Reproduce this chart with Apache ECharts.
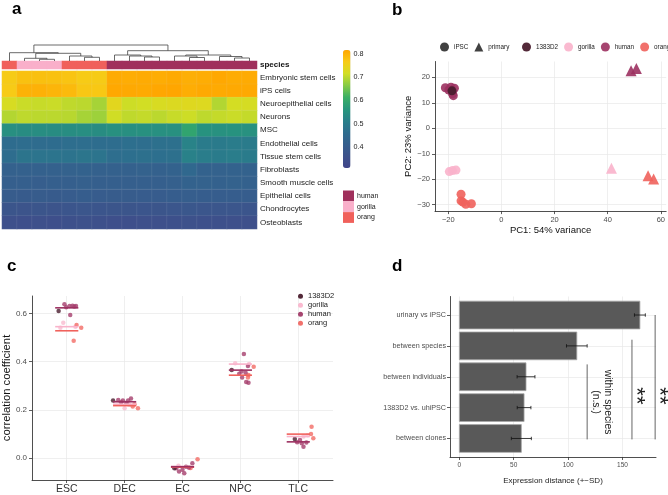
<!DOCTYPE html>
<html><head><meta charset="utf-8">
<script src="https://cdn.jsdelivr.net/npm/echarts@6/dist/echarts.min.js"></script>
<style>html,body{margin:0;padding:0;background:#fff}#c{width:668px;height:495px}</style>
</head><body><div id="c"></div>
<script>
const FONT = 'Liberation Sans, Arial, sans-serif';

// ---------- Panel a: heatmap ----------
const cellTypes = ['Embryonic stem cells','iPS cells','Neuroepithelial cells','Neurons','MSC','Endothelial cells','Tissue stem cells','Fibroblasts','Smooth muscle cells','Epithelial cells','Chondrocytes','Osteoblasts'];
const sampleIds = ['s1','s2','s3','s4','s5','s6','s7','s8','s9','s10','s11','s12','s13','s14','s15','s16','s17'];
const sampleSpecies = ['orang','gorilla','gorilla','gorilla','orang','orang','orang','human','human','human','human','human','human','human','human','human','human'];
const speciesOrder = ['human','gorilla','orang'];
const speciesColors = ['#A0305C','#F9AFCA','#F0605B'];
const heatESC   = [0.765,0.780,0.782,0.780,0.776,0.766,0.765,0.810,0.808,0.810,0.808,0.812,0.804,0.808,0.814,0.809,0.810];
const heatIPS   = [0.766,0.800,0.802,0.797,0.790,0.772,0.770,0.814,0.813,0.812,0.815,0.818,0.808,0.813,0.812,0.813,0.813];
const heatNeuroEpi = [0.722,0.710,0.708,0.710,0.703,0.700,0.686,0.737,0.712,0.716,0.724,0.728,0.732,0.730,0.694,0.718,0.720];
const heatNeurons  = [0.695,0.702,0.700,0.700,0.698,0.686,0.680,0.714,0.703,0.706,0.700,0.708,0.712,0.702,0.706,0.710,0.706];
const heatMSC   = [0.545,0.540,0.542,0.540,0.541,0.543,0.540,0.548,0.546,0.548,0.547,0.548,0.590,0.552,0.550,0.552,0.550];
const heatEndo  = [0.460,0.462,0.458,0.460,0.464,0.466,0.462,0.462,0.468,0.466,0.470,0.470,0.520,0.500,0.498,0.502,0.500];
const heatTissue= [0.462,0.482,0.480,0.480,0.478,0.484,0.480,0.466,0.468,0.470,0.468,0.470,0.515,0.505,0.500,0.504,0.500];
const heatFibro = [0.420,0.418,0.420,0.418,0.422,0.424,0.420,0.420,0.420,0.422,0.420,0.424,0.445,0.424,0.422,0.424,0.424];
const heatSmooth= [0.410,0.410,0.408,0.410,0.412,0.414,0.412,0.410,0.410,0.412,0.412,0.414,0.424,0.422,0.420,0.422,0.420];
const heatEpi   = [0.398,0.396,0.398,0.396,0.400,0.402,0.400,0.398,0.398,0.400,0.400,0.402,0.408,0.404,0.404,0.404,0.402];
const heatChondro=[0.372,0.370,0.372,0.370,0.374,0.376,0.374,0.372,0.372,0.374,0.372,0.376,0.380,0.376,0.376,0.376,0.374];
const heatOsteo = [0.352,0.350,0.352,0.350,0.354,0.356,0.354,0.350,0.350,0.352,0.352,0.354,0.358,0.354,0.354,0.352,0.352];
const heatRows = [heatESC,heatIPS,heatNeuroEpi,heatNeurons,heatMSC,heatEndo,heatTissue,heatFibro,heatSmooth,heatEpi,heatChondro,heatOsteo];
const colorbarTicks = [0.4,0.5,0.6,0.7,0.8];
// dendrogram merges (hclust style: negative = leaf column, positive = earlier merge), heights
const mergeLeft   = [-3,-2,-6,-5, 2,-1,-10,-9,-8,-16,-15,-13,-12,13, 9, 6];
const mergeRight  = [-4, 1,-7, 3, 4, 5,-11, 7, 8,-17, 10,-14, 12,11,14,15];
const mergeHeight = [1.7,2.7,3.7,5.0,7.7,8.3,4.0,5.0,6.0,3.0,4.5,3.5,5.0,6.0,10.3,16];

// ---------- Panel b: PCA ----------
const pcaHumanIPSC   = [[-21.1,15.9],[-19.0,16.1],[-17.7,15.7],[-18.4,13.5],[-18.1,12.8],[-19.8,15.0]];
const pca1383D2      = [[-18.6,14.7]];
const pcaGorillaIPSC = [[-19.6,-17.0],[-18.4,-16.6],[-17.1,-16.4]];
const pcaOrangIPSC   = [[-15.2,-25.9],[-15.2,-28.5],[-14.5,-29.0],[-13.4,-29.8],[-11.3,-29.6]];
const pcaHumanPrim   = [[48.8,22.6],[50.8,23.5]];
const pcaGorillaPrim = [[41.4,-15.7]];
const pcaOrangPrim   = [[55.2,-18.6],[57.3,-19.9]];
const pcaXTicks = [-20,0,20,40,60];
const pcaYTicks = [-30,-20,-10,0,10,20];

// ---------- Panel c: correlation ----------
const corrCategories = ['ESC','DEC','EC','NPC','TLC'];
const corrTicks = [0,0.2,0.4,0.6];
// [category index, jitter offset, value]
const corr1383D2 = [[0,-0.14,0.610],[1,-0.20,0.239],[2,-0.14,-0.041],[3,-0.15,0.366],[4,-0.06,0.080]];
const corrGorilla = [[0,-0.06,0.561],[0,-0.11,0.541],[0,0.15,0.545],[1,0.0,0.207],[1,0.08,0.222],[2,-0.07,-0.031],[2,0.12,-0.040],[3,-0.09,0.393],[3,0.15,0.390],[4,0.09,0.090],[4,0.16,0.095]];
const corrHuman = [[0,-0.04,0.638],[0,0.05,0.631],[0,0.10,0.632],[0,0.13,0.628],[0,0.16,0.631],[0,-0.01,0.625],[0,0.06,0.593],
  [1,-0.11,0.241],[1,-0.03,0.239],[1,0.06,0.239],[1,0.11,0.248],[1,0.03,0.228],[1,-0.06,0.232],
  [2,-0.11,-0.041],[2,-0.06,-0.055],[2,0.0,-0.048],[2,0.06,-0.035],[2,0.11,-0.038],[2,0.17,-0.021],[2,0.03,-0.062],
  [3,0.06,0.432],[3,0.13,0.382],[3,0.02,0.359],[3,0.09,0.354],[3,0.03,0.335],[3,0.10,0.316],[3,0.14,0.313],[3,-0.02,0.350],
  [4,0.03,0.076],[4,0.06,0.062],[4,0.09,0.048],[4,0.14,0.065],[4,-0.02,0.066]];
const corrOrang = [[0,0.17,0.552],[0,0.25,0.540],[0,0.12,0.487],[1,0.17,0.224],[1,0.23,0.207],[1,0.14,0.214],[2,0.26,-0.004],[2,0.14,-0.040],[3,0.23,0.379],[3,0.14,0.345],[3,0.13,0.335],[4,0.23,0.131],[4,0.22,0.100],[4,0.26,0.083]];
const meanHuman   = [0.623,0.234,-0.035,0.365,0.068];
const meanGorilla = [0.545,0.224,-0.034,0.390,0.090];
const meanOrang   = [0.528,0.218,-0.037,0.344,0.100];

// ---------- Panel d: expression distance ----------
const distCategories = ['urinary vs iPSC','between species','between individuals','1383D2 vs. uhiPSC','between clones'];
const distMean = [166,108,61.3,59.5,57];
const distSD   = [5,9.5,8.2,6.3,9.2];
const distTicks = [0,50,100,150];
const sigX      = [117.5,158.7,180];
const sigTop    = [1.6,0.8,0.0];
const sigBottom = [4.03,4.03,4.03];
const sigLabelText = ['within species\n(n.s.)','**','**'];
const sigLabelX = [131,162.5,183.5];
const sigLabelY = [2.82,2.62,2.62];

const COL = {human:'#9C3161', c1383:'#4A1D2E', gorilla:'#F9B3CB', orang:'#F0625C'};

// ---------- helpers ----------
function dendroSegments(){
  const pos=[], ht=[], segs=[];
  for(let k=0;k<mergeLeft.length;k++){
    const get = id => id<0 ? [(-id-1)+0.5,0] : [pos[id-1],ht[id-1]];
    const a=get(mergeLeft[k]), b=get(mergeRight[k]);
    pos.push((a[0]+b[0])/2); ht.push(mergeHeight[k]);
    segs.push([a[0],a[1],b[0],b[1],mergeHeight[k]]);
  }
  return segs;
}
const heatData=[];
heatRows.forEach((row,r)=>row.forEach((v,c)=>heatData.push([c,r,v])));
const speciesData = sampleSpecies.map((s,i)=>[i,0,speciesOrder.indexOf(s)]);
const speciesPieces = speciesOrder.map((s,i)=>({value:i,label:s,color:speciesColors[i]}));

const axisBase = (extra) => Object.assign({
  axisLine:{show:true,onZero:false,lineStyle:{color:'#222',width:0.8}},
  axisTick:{show:true,length:3,lineStyle:{color:'#333',width:0.8}},
  splitLine:{show:true,lineStyle:{color:'#e8e8e8',width:0.7}},
  axisLabel:{color:'#4d4d4d',fontFamily:FONT},
  nameTextStyle:{color:'#111',fontFamily:FONT}
}, extra);

function corrPoints(arr){ return arr.map(d=>[d[0]+d[1],d[2]]); }
function meanSeg(arr){ return arr.map((v,i)=>[i,v]); }
function meanRender(color){
  return function(params,api){
    const c=api.value(0), v=api.value(1);
    const p1=api.coord([c-0.2,v]), p2=api.coord([c+0.2,v]);
    return {type:'line',shape:{x1:p1[0],y1:p1[1],x2:p2[0],y2:p2[1]},style:{stroke:color,lineWidth:1.6}};
  };
}

const chart = echarts.init(document.getElementById('c'),null,{renderer:'canvas'});
const hidden = {show:false};
const option = {
  animation:false,
  backgroundColor:'#fff',
  textStyle:{fontFamily:FONT},
  title:[
    {text:'a',left:12,top:1,padding:0,textStyle:{fontSize:17,fontWeight:'bold',color:'#000'}},
    {text:'b',left:392,top:2,padding:0,textStyle:{fontSize:17,fontWeight:'bold',color:'#000'}},
    {text:'c',left:7,top:258,padding:0,textStyle:{fontSize:17,fontWeight:'bold',color:'#000'}},
    {text:'d',left:392,top:258,padding:0,textStyle:{fontSize:17,fontWeight:'bold',color:'#000'}}
  ],
  grid:[
    {left:2,top:71,width:255,height:158},   //0 heatmap
    {left:2,top:61,width:255,height:8},     //1 species bar
    {left:2,top:45,width:255,height:16},    //2 dendrogram
    {left:343,top:50,width:7.5,height:118}, //3 colorbar axis
    {left:435,top:61.5,width:233,height:149.6}, //4 PCA
    {left:29.5,top:296,width:303.5,height:184}, //5 corr
    {left:450,top:296.5,width:206,height:160.5} //6 dist
  ],
  xAxis:[
    {type:'category',gridIndex:0,data:sampleIds,show:false},
    {type:'category',gridIndex:1,data:sampleIds,show:false},
    {type:'value',gridIndex:2,min:0,max:17,show:false},
    {type:'value',gridIndex:3,min:0,max:1,show:false},
    axisBase({type:'value',gridIndex:4,min:-25,max:62,
      axisTick:{show:true,length:3,customValues:pcaXTicks,lineStyle:{color:'#333',width:0.8}},
      axisLabel:{customValues:pcaXTicks,fontSize:7.5,color:'#4d4d4d',margin:5,formatter:v=>String(v).replace('-','\u2212')},
      name:'PC1: 54% variance',nameLocation:'middle',nameGap:14,nameTextStyle:{fontSize:9.5,color:'#111'}}),
    axisBase({type:'value',gridIndex:5,min:-0.6,max:4.6,
      axisTick:{show:true,length:3,customValues:[0,1,2,3,4],lineStyle:{color:'#333',width:0.8}},
      axisLabel:{customValues:[0,1,2,3,4],fontSize:10.5,color:'#333',margin:4,formatter:v=>corrCategories[Math.round(v)]}}),
    axisBase({type:'value',gridIndex:6,min:-8.6,max:180.8,
      axisTick:{show:true,length:3,customValues:distTicks,lineStyle:{color:'#333',width:0.8}},
      axisLabel:{customValues:distTicks,fontSize:6.5,color:'#4d4d4d',margin:5},
      name:'Expression distance (+\u2212SD)',nameLocation:'middle',nameGap:20,nameTextStyle:{fontSize:8,color:'#222'}})
  ],
  yAxis:[
    {type:'category',gridIndex:0,data:cellTypes,inverse:true,position:'right',axisLine:hidden,axisTick:hidden,
      axisLabel:{fontSize:8,color:'#222',margin:3}},
    {type:'category',gridIndex:1,data:['species'],position:'right',axisLine:hidden,axisTick:hidden,
      axisLabel:{fontSize:8,fontWeight:'bold',color:'#111',margin:3}},
    {type:'value',gridIndex:2,min:0,max:16,show:false},
    {type:'value',gridIndex:3,min:0.31,max:0.817,position:'right',axisLine:hidden,splitLine:hidden,
      axisTick:{show:true,inside:true,length:1.5,customValues:colorbarTicks,lineStyle:{color:'#fff',width:0.8}},
      axisLabel:{customValues:colorbarTicks,fontSize:7.2,color:'#222',margin:3,formatter:v=>v.toFixed(1)}},
    axisBase({type:'value',gridIndex:4,min:-32.5,max:26.2,
      axisTick:{show:true,length:3,customValues:pcaYTicks,lineStyle:{color:'#333',width:0.8}},
      axisLabel:{customValues:pcaYTicks,fontSize:7.5,color:'#4d4d4d',margin:5,formatter:v=>String(v).replace('-','\u2212')},
      name:'PC2: 23% variance',nameLocation:'middle',nameGap:18,nameTextStyle:{fontSize:9.5,color:'#111'}}),
    axisBase({type:'value',gridIndex:5,min:-0.09,max:0.672,
      axisTick:{show:true,length:3,customValues:corrTicks,lineStyle:{color:'#333',width:0.8}},
      axisLabel:{customValues:corrTicks,fontSize:8,color:'#4d4d4d',margin:5,formatter:v=>v.toFixed(1)},
      name:'correlation coefficient',nameLocation:'middle',nameGap:17,nameTextStyle:{fontSize:11.3,color:'#111'}}),
    axisBase({type:'value',gridIndex:6,min:-0.6,max:4.6,inverse:true,
      axisTick:{show:true,length:3,customValues:[0,1,2,3,4],lineStyle:{color:'#333',width:0.8}},
      axisLabel:{customValues:[0,1,2,3,4],fontSize:7.2,color:'#4d4d4d',margin:4,formatter:v=>distCategories[Math.round(v)]}})
  ],
  visualMap:[
    {type:'continuous',seriesIndex:0,min:0.31,max:0.817,left:343,top:50,itemWidth:7.5,itemHeight:118,padding:0,
      calculable:false,hoverLink:false,showLabel:false,text:null,
      inRange:{color:['#40458A','#3D528B','#355F8D','#2E6D8E','#29808A','#27977C','#3BAF64','#86CB45','#D2DE24','#F7CB16','#FFA600']}},
    {type:'piecewise',seriesIndex:1,left:343,top:190.5,padding:0,itemWidth:11,itemHeight:10.8,itemGap:0,itemSymbol:'rect',
      align:'left',inverse:true,textGap:3,hoverLink:false,selectedMode:false,textStyle:{fontSize:7,color:'#222'},
      pieces:speciesPieces}
  ],
  legend:[
    {left:440,top:42.5,width:90,padding:0,itemGap:6,itemWidth:9,itemHeight:9,selectedMode:false,textStyle:{fontSize:6.3,color:'#222'},
      data:[{name:'iPSC',icon:'circle'},{name:'primary',icon:'triangle'}]},
    {left:522,top:42.5,width:200,padding:0,itemGap:6,itemWidth:9,itemHeight:9,selectedMode:false,textStyle:{fontSize:6.3,color:'#222'},
      data:[{name:'1383D2',icon:'circle'},{name:'gorilla',icon:'circle'},{name:'human',icon:'circle'},{name:'orang',icon:'circle'}]},
    {left:298,top:292,orient:'vertical',padding:0,itemGap:0.5,itemWidth:5,itemHeight:5,selectedMode:false,textStyle:{fontSize:7.5,color:'#222',lineHeight:8.5},
      data:[{name:'1383D2',icon:'circle'},{name:'gorilla',icon:'circle'},{name:'human',icon:'circle'},{name:'orang',icon:'circle'}]}
  ],
  series:[
    {type:'heatmap',xAxisIndex:0,yAxisIndex:0,data:heatData,itemStyle:{borderColor:'rgba(220,220,220,0.18)',borderWidth:0.5},emphasis:{disabled:true}},
    {type:'heatmap',xAxisIndex:1,yAxisIndex:1,data:speciesData,emphasis:{disabled:true}},
    {type:'custom',xAxisIndex:2,yAxisIndex:2,data:dendroSegments(),silent:true,
      renderItem:(params,api)=>{
        const xa=api.value(0),ha=api.value(1),xb=api.value(2),hb=api.value(3),h=api.value(4);
        return {type:'polyline',shape:{points:[api.coord([xa,ha]),api.coord([xa,h]),api.coord([xb,h]),api.coord([xb,hb])]},
          style:{stroke:'#444',fill:null,lineWidth:0.8}};
      }},
    // PCA
    {name:'iPSC',type:'scatter',xAxisIndex:4,yAxisIndex:4,data:[],itemStyle:{color:'#111'}},
    {name:'primary',type:'scatter',xAxisIndex:4,yAxisIndex:4,data:[],symbol:'triangle',itemStyle:{color:'#111'}},
    {name:'human',type:'scatter',xAxisIndex:4,yAxisIndex:4,data:pcaHumanIPSC,symbolSize:9,itemStyle:{color:COL.human,opacity:0.9}},
    {name:'1383D2',type:'scatter',xAxisIndex:4,yAxisIndex:4,data:pca1383D2,symbolSize:9,itemStyle:{color:COL.c1383,opacity:0.95}},
    {name:'gorilla',type:'scatter',xAxisIndex:4,yAxisIndex:4,data:pcaGorillaIPSC,symbolSize:9,itemStyle:{color:COL.gorilla,opacity:0.9}},
    {name:'orang',type:'scatter',xAxisIndex:4,yAxisIndex:4,data:pcaOrangIPSC,symbolSize:9,itemStyle:{color:COL.orang,opacity:0.9}},
    {name:'human',type:'scatter',xAxisIndex:4,yAxisIndex:4,data:pcaHumanPrim,symbol:'triangle',symbolSize:11,itemStyle:{color:COL.human,opacity:0.9}},
    {name:'gorilla',type:'scatter',xAxisIndex:4,yAxisIndex:4,data:pcaGorillaPrim,symbol:'triangle',symbolSize:11,itemStyle:{color:COL.gorilla,opacity:0.9}},
    {name:'orang',type:'scatter',xAxisIndex:4,yAxisIndex:4,data:pcaOrangPrim,symbol:'triangle',symbolSize:11,itemStyle:{color:COL.orang,opacity:0.9}},
    // correlation panel
    {name:'gorilla',type:'scatter',xAxisIndex:5,yAxisIndex:5,data:corrPoints(corrGorilla),symbolSize:4.5,itemStyle:{color:'#F9BBD0'}},
    {name:'orang',type:'scatter',xAxisIndex:5,yAxisIndex:5,data:corrPoints(corrOrang),symbolSize:4.5,itemStyle:{color:'#F36B65'}},
    {name:'human',type:'scatter',xAxisIndex:5,yAxisIndex:5,data:corrPoints(corrHuman),symbolSize:4.5,itemStyle:{color:'#A53F6D'}},
    {name:'1383D2',type:'scatter',xAxisIndex:5,yAxisIndex:5,data:corrPoints(corr1383D2),symbolSize:4.5,itemStyle:{color:'#4A1D2E'}},
    {type:'custom',xAxisIndex:5,yAxisIndex:5,data:meanSeg(meanGorilla),renderItem:meanRender('#F9B3CB'),z:3},
    {type:'custom',xAxisIndex:5,yAxisIndex:5,data:meanSeg(meanOrang),renderItem:meanRender('#F0625C'),z:3},
    {type:'custom',xAxisIndex:5,yAxisIndex:5,data:meanSeg(meanHuman),renderItem:meanRender('#9C3161'),z:3},
    // distance bars
    {type:'custom',xAxisIndex:6,yAxisIndex:6,data:distMean.map((m,i)=>[m,i]),
      renderItem:(params,api)=>{
        const m=api.value(0), i=api.value(1);
        const p0=api.coord([0,i-0.45]), p1=api.coord([m,i+0.45]);
        return {type:'rect',shape:{x:p0[0],y:p0[1],width:p1[0]-p0[0],height:p1[1]-p0[1]},style:{fill:'#595959',stroke:'#a8a8a8',lineWidth:0.8}};
      }},
    {type:'custom',xAxisIndex:6,yAxisIndex:6,data:distMean.map((m,i)=>[m-distSD[i],m+distSD[i],i]),z:4,
      renderItem:(params,api)=>{
        const lo=api.value(0), hi=api.value(1), i=api.value(2);
        const a=api.coord([lo,i]), b=api.coord([hi,i]);
        const cap=1.7;
        const st={stroke:'#111',lineWidth:0.8};
        return {type:'group',children:[
          {type:'line',shape:{x1:a[0],y1:a[1],x2:b[0],y2:b[1]},style:st},
          {type:'line',shape:{x1:a[0],y1:a[1]-cap,x2:a[0],y2:a[1]+cap},style:st},
          {type:'line',shape:{x1:b[0],y1:b[1]-cap,x2:b[0],y2:b[1]+cap},style:st}]};
      }},
    {type:'custom',xAxisIndex:6,yAxisIndex:6,clip:false,data:sigX.map((x,i)=>[x,sigTop[i],sigBottom[i]]),z:4,
      renderItem:(params,api)=>{
        const a=api.coord([api.value(0),api.value(1)]), b=api.coord([api.value(0),api.value(2)]);
        return {type:'line',shape:{x1:a[0],y1:a[1],x2:b[0],y2:b[1]},style:{stroke:'#555',lineWidth:0.9}};
      }},
    {type:'custom',xAxisIndex:6,yAxisIndex:6,clip:false,data:sigLabelX.map((x,i)=>[x,sigLabelY[i],i]),z:5,
      renderItem:(params,api)=>{
        const p=api.coord([api.value(0),api.value(1)]);
        const i=api.value(2);
        const big = sigLabelText[i]==='**';
        return {type:'text',x:p[0],y:p[1],rotation:-Math.PI/2,
          style:{text:sigLabelText[i],align:'center',verticalAlign:'middle',fontSize:big?22:10.4,lineHeight:big?22:11.5,fill:'#222',fontFamily:FONT}};
      }}
  ]
};
chart.setOption(option);
</script></body></html>
